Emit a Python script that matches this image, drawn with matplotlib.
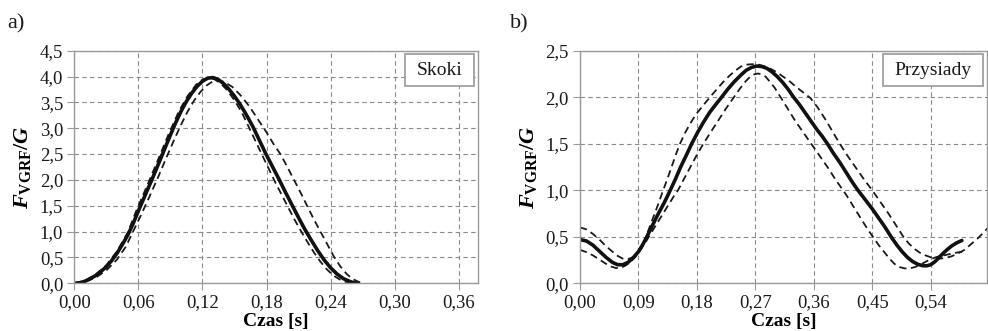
import matplotlib
matplotlib.use('Agg')
import matplotlib.pyplot as plt
from matplotlib.patches import Rectangle

'''
Vertical ground reaction force (normalised by body weight) over time,
jumps (Skoki) and squats (Przysiady): mean curve and two dashed bounds
'''

# ---- a) Skoki ----
skoki_t = [0, 0.005, 0.01, 0.015, 0.02, 0.025, 0.03, 0.035, 0.04, 0.045, 0.05, 0.055,
           0.06, 0.065, 0.07, 0.075, 0.08, 0.085, 0.09, 0.095, 0.10, 0.105, 0.11, 0.115,
           0.12, 0.125, 0.13, 0.135, 0.14, 0.145, 0.15, 0.155, 0.16, 0.167, 0.173, 0.179,
           0.185, 0.192, 0.198, 0.204, 0.21, 0.216, 0.222, 0.228, 0.234, 0.24, 0.246,
           0.252, 0.258, 0.262, 0.266]
skoki_v = [0, 0.01, 0.04, 0.09, 0.15, 0.23, 0.32, 0.44, 0.58, 0.75, 0.93, 1.15,
           1.4, 1.64, 1.88, 2.12, 2.37, 2.62, 2.87, 3.11, 3.33, 3.52, 3.68, 3.81,
           3.91, 3.97, 3.98, 3.94, 3.86, 3.75, 3.62, 3.47, 3.3, 3.04, 2.78, 2.52,
           2.28, 2.0, 1.75, 1.51, 1.27, 1.04, 0.83, 0.63, 0.45, 0.3, 0.18,
           0.09, 0.035, 0.01, 0]

skoki_a_t = [0, 0.01, 0.02, 0.03, 0.04, 0.05, 0.058, 0.068, 0.078, 0.088, 0.098, 0.106,
             0.114, 0.12, 0.125, 0.131, 0.137, 0.143, 0.15, 0.157, 0.163, 0.169, 0.175,
             0.182, 0.188, 0.194, 0.2, 0.206, 0.212, 0.218, 0.224, 0.23, 0.236, 0.242,
             0.248, 0.254, 0.258, 0.262]
skoki_a_v = [0, 0.05, 0.17, 0.35, 0.62, 0.98, 1.4, 1.88, 2.37, 2.87, 3.33, 3.62,
             3.84, 3.94, 3.97, 3.95, 3.87, 3.74, 3.54, 3.3, 3.04, 2.78, 2.52,
             2.22, 1.96, 1.72, 1.48, 1.24, 1.02, 0.81, 0.61, 0.43, 0.28, 0.16,
             0.08, 0.03, 0.01, 0]

skoki_b_t = [0, 0.01, 0.02, 0.03, 0.04, 0.048, 0.055, 0.062, 0.07, 0.078, 0.086, 0.094,
             0.1, 0.106, 0.112, 0.118, 0.124, 0.13, 0.134, 0.14, 0.148, 0.156, 0.164,
             0.172, 0.18, 0.187, 0.193, 0.2, 0.206, 0.212, 0.218, 0.224, 0.2305, 0.237,
             0.243, 0.249, 0.255, 0.261, 0.266, 0.271]
skoki_b_v = [0, 0.03, 0.11, 0.25, 0.46, 0.7, 1.0, 1.3, 1.66, 2.03, 2.42, 2.8,
             3.07, 3.32, 3.53, 3.7, 3.83, 3.91, 3.93, 3.9, 3.8, 3.63, 3.42,
             3.17, 2.92, 2.68, 2.5, 2.23, 1.99, 1.75, 1.5, 1.25, 1.0, 0.75,
             0.52, 0.33, 0.18, 0.08, 0.03, 0]

# ---- b) Przysiady ----
przys_t = [0, 0.01, 0.02, 0.03, 0.04, 0.05, 0.058, 0.066, 0.074, 0.082, 0.09, 0.097,
           0.103, 0.11, 0.12, 0.13, 0.139, 0.147, 0.155, 0.164, 0.172, 0.181, 0.19,
           0.2, 0.21, 0.218, 0.228, 0.238, 0.248, 0.256, 0.264, 0.272, 0.28, 0.288,
           0.296, 0.304, 0.312, 0.32, 0.329, 0.338, 0.347, 0.356, 0.365, 0.373, 0.381,
           0.39, 0.4, 0.41, 0.42, 0.428, 0.438, 0.45, 0.46, 0.47, 0.479, 0.488, 0.496,
           0.504, 0.512, 0.52, 0.527, 0.534, 0.54, 0.546, 0.552, 0.558, 0.565, 0.572,
           0.58, 0.588]
przys_v = [0.47, 0.455, 0.41, 0.345, 0.28, 0.225, 0.2, 0.2, 0.225, 0.275, 0.34, 0.42,
           0.5, 0.6, 0.74, 0.87, 1.0, 1.12, 1.25, 1.38, 1.5, 1.62, 1.73,
           1.84, 1.93, 2.0, 2.09, 2.17, 2.24, 2.29, 2.32, 2.335, 2.33, 2.31,
           2.27, 2.22, 2.16, 2.09, 2.0, 1.92, 1.83, 1.74, 1.65, 1.58, 1.5,
           1.4, 1.3, 1.19, 1.08, 1.0, 0.91, 0.8, 0.7, 0.6, 0.5, 0.41, 0.34,
           0.28, 0.235, 0.205, 0.19, 0.188, 0.2, 0.23, 0.27, 0.315, 0.36, 0.4,
           0.435, 0.46]

przys_u_t = [0, 0.01, 0.02, 0.03, 0.04, 0.05, 0.058, 0.066, 0.074, 0.082, 0.09, 0.096,
             0.1, 0.107, 0.114, 0.121, 0.127, 0.134, 0.141, 0.148, 0.154, 0.162, 0.17,
             0.178, 0.186, 0.193, 0.2, 0.21, 0.22, 0.23, 0.24, 0.248, 0.256, 0.265,
             0.275, 0.285, 0.295, 0.305, 0.313, 0.323, 0.333, 0.344, 0.355, 0.366,
             0.378, 0.389, 0.4, 0.412, 0.425, 0.437, 0.45, 0.462, 0.474, 0.486, 0.497,
             0.506, 0.515, 0.523, 0.532, 0.542, 0.552, 0.562, 0.572, 0.582, 0.592,
             0.602, 0.612, 0.622, 0.63]
przys_u_v = [0.6, 0.58, 0.53, 0.47, 0.4, 0.34, 0.295, 0.265, 0.26, 0.28, 0.33, 0.39,
             0.47, 0.6, 0.73, 0.86, 0.98, 1.11, 1.25, 1.39, 1.5, 1.62, 1.72,
             1.81, 1.88, 1.94, 2.0, 2.08, 2.16, 2.23, 2.29, 2.33, 2.35, 2.355,
             2.35, 2.33, 2.3, 2.26, 2.22, 2.17, 2.11, 2.05, 1.99, 1.89,
             1.76, 1.63, 1.5, 1.37, 1.24, 1.12, 1.0, 0.88, 0.76, 0.63, 0.51,
             0.43, 0.37, 0.33, 0.3, 0.275, 0.265, 0.27, 0.29, 0.32, 0.36,
             0.42, 0.48, 0.55, 0.61]

przys_l_t = [0, 0.01, 0.02, 0.03, 0.04, 0.048, 0.055, 0.062, 0.07, 0.078, 0.086, 0.094,
             0.1, 0.106, 0.113, 0.12, 0.128, 0.136, 0.144, 0.151, 0.16, 0.17, 0.18,
             0.19, 0.2, 0.212, 0.224, 0.236, 0.246, 0.255, 0.262, 0.268, 0.274, 0.28,
             0.286, 0.292, 0.3, 0.308, 0.316, 0.324, 0.332, 0.34, 0.348, 0.357, 0.366,
             0.375, 0.383, 0.392, 0.401, 0.41, 0.418, 0.426, 0.434, 0.443, 0.452, 0.46,
             0.468, 0.476, 0.484, 0.492, 0.5, 0.508, 0.516, 0.524, 0.532, 0.54, 0.55,
             0.56, 0.57, 0.58, 0.59]
przys_l_v = [0.36, 0.335, 0.3, 0.255, 0.21, 0.18, 0.165, 0.165, 0.19, 0.23, 0.29, 0.37,
             0.43, 0.5, 0.58, 0.66, 0.75, 0.84, 0.93, 1.0, 1.12, 1.25, 1.38,
             1.5, 1.61, 1.74, 1.87, 1.99, 2.09, 2.17, 2.22, 2.245, 2.255, 2.245,
             2.22, 2.17, 2.1, 2.01, 1.92, 1.83, 1.74, 1.66, 1.58, 1.49, 1.4,
             1.31, 1.23, 1.13, 1.04, 0.95, 0.86, 0.77, 0.68, 0.58, 0.49, 0.41,
             0.34, 0.27, 0.21, 0.175, 0.16, 0.16, 0.175, 0.2, 0.23, 0.26, 0.285,
             0.3, 0.315, 0.33, 0.34]

skoki_xticks = [0, 0.06, 0.12, 0.18, 0.24, 0.30, 0.36]
skoki_xlabels = ['0,00', '0,06', '0,12', '0,18', '0,24', '0,30', '0,36']
skoki_yticks = [0, 0.5, 1.0, 1.5, 2.0, 2.5, 3.0, 3.5, 4.0, 4.5]
skoki_ylabels = ['0,0', '0,5', '1,0', '1,5', '2,0', '2,5', '3,0', '3,5', '4,0', '4,5']

przys_xticks = [0, 0.09, 0.18, 0.27, 0.36, 0.45, 0.54]
przys_xlabels = ['0,00', '0,09', '0,18', '0,27', '0,36', '0,45', '0,54']
przys_yticks = [0, 0.5, 1.0, 1.5, 2.0, 2.5]
przys_ylabels = ['0,0', '0,5', '1,0', '1,5', '2,0', '2,5']

plt.rcParams['font.family'] = 'Liberation Serif'
plt.rcParams['mathtext.fontset'] = 'custom'
plt.rcParams['mathtext.it'] = 'Liberation Serif:italic:bold'
plt.rcParams['mathtext.rm'] = 'Liberation Serif:bold'
plt.rcParams['mathtext.bf'] = 'Liberation Serif:bold'

GRAY = '#9a9a9a'
INK = '#1a1a1a'
DASH = (0, (4, 2.5))


def style_axes(ax, xticks, xlabels, yticks, ylabels, xmax, ymax, tag, box_x0):
    ax.set_xlim(0, xmax)
    ax.set_ylim(0, ymax)
    ax.set_xticks(xticks)
    ax.set_xticklabels(xlabels)
    ax.set_yticks(yticks)
    ax.set_yticklabels(ylabels)
    ax.tick_params(labelsize=13.5, colors=GRAY, labelcolor=INK, length=5, width=0.8)
    ax.tick_params(axis='x', pad=3)
    ax.tick_params(axis='y', pad=3)
    for s in ax.spines.values():
        s.set_color(GRAY)
        s.set_linewidth(1.0)
    ax.grid(True, color='#8a8a8a', linestyle=(0, (4, 3)), linewidth=0.8)
    ax.set_axisbelow(True)
    ax.set_xlabel('Czas [s]', fontsize=14, fontweight='bold', labelpad=1)
    ax.set_ylabel(r'$F_{\mathrm{VGRF}}/G$', fontsize=16, labelpad=5)
    # label box in the upper right corner
    ax.add_patch(Rectangle((box_x0, 0.848), 0.99 - box_x0, 0.138, transform=ax.transAxes,
                           facecolor='white', edgecolor='#a0a0a0', linewidth=1.3,
                           zorder=5))
    ax.text((box_x0 + 0.99) / 2, 0.915, tag, transform=ax.transAxes, ha='center',
            va='center', fontsize=14, color=INK, zorder=6)


fig = plt.figure(figsize=(9.88, 3.31), dpi=100)
ax1 = fig.add_axes([0.0752, 0.1441, 0.4086, 0.7027])
ax2 = fig.add_axes([0.5870, 0.1441, 0.4122, 0.7027])

ax1.plot(skoki_a_t, skoki_a_v, color=INK, linewidth=1.3, linestyle=DASH)
ax1.plot(skoki_b_t, skoki_b_v, color=INK, linewidth=1.3, linestyle=DASH)
ax1.plot(skoki_t, skoki_v, color='#111111', linewidth=2.6, solid_capstyle='round')
style_axes(ax1, skoki_xticks, skoki_xlabels, skoki_yticks, skoki_ylabels, 0.378, 4.5,
           'Skoki', 0.819)

ax2.plot(przys_u_t, przys_u_v, color=INK, linewidth=1.3, linestyle=DASH)
ax2.plot(przys_l_t, przys_l_v, color=INK, linewidth=1.3, linestyle=DASH)
ax2.plot(przys_t, przys_v, color='#111111', linewidth=2.6, solid_capstyle='round')
style_axes(ax2, przys_xticks, przys_xlabels, przys_yticks, przys_ylabels, 0.627, 2.5,
           'Przysiady', 0.744)

fig.text(0.007, 0.915, 'a)', fontsize=16, color=INK)
fig.text(0.516, 0.915, 'b)', fontsize=16, color=INK)

fig.savefig('out.png', dpi=100)
